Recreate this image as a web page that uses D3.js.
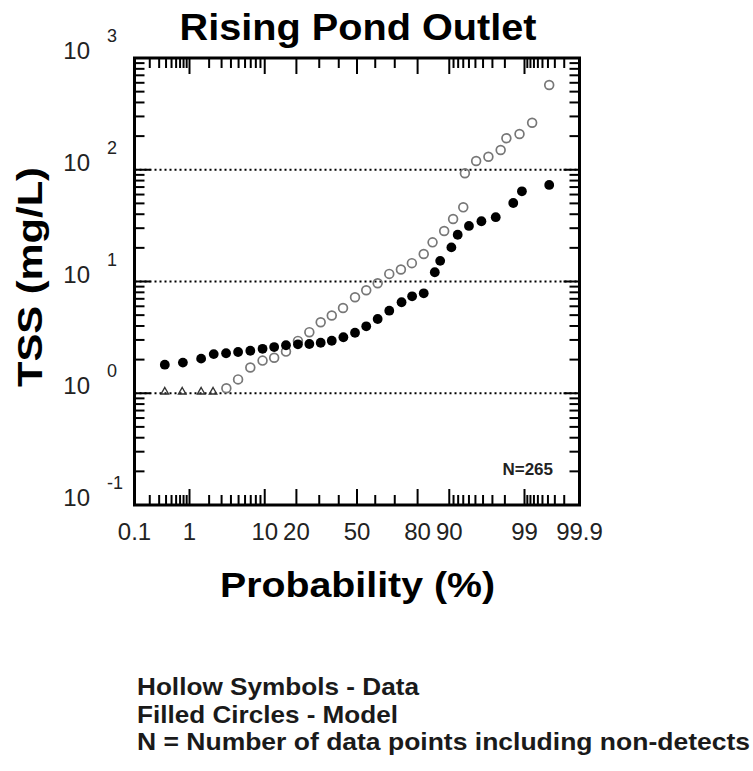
<!DOCTYPE html>
<html><head><meta charset="utf-8">
<script src="https://cdn.jsdelivr.net/npm/d3@7"></script>
<style>body{margin:0;background:#fff}svg{display:block}text{font-family:"Liberation Sans",Arial,sans-serif}</style>
</head><body>
<svg id="c" width="753" height="771"></svg>
<script>
// ---- data ----
const modelProb = [0.38,0.78,1.52,2.33,3.45,4.93,6.92,9.48,12.5,16.2,20.6,25.4,30.7,36.3,42.5,48.9,55.1,61.3,67.3,73.2,77.8,82.3,86.0,87.6,90.5,91.9,94.0,95.8,97.3,98.5,98.9,99.62];
const modelTSS  = [1.80,1.88,2.04,2.24,2.28,2.34,2.40,2.50,2.59,2.69,2.74,2.76,2.83,2.95,3.17,3.48,3.97,4.62,5.48,6.52,7.37,7.84,12.1,15.3,20.2,26.2,31.4,34.6,37.6,50.4,64.1,73.1];
const dataProb = [3.48,4.93,6.92,9.48,12.5,16.2,20.6,25.4,30.7,36.3,42.3,48.9,55.1,61.3,67.3,72.9,77.7,82.3,85.3,88.7,90.9,93.0,93.3,95.1,96.6,97.7,98.1,98.8,99.25,99.62];
const dataTSS  = [1.11,1.33,1.70,1.96,2.08,2.36,2.94,3.52,4.32,4.96,5.79,7.22,8.34,9.64,11.7,12.8,14.6,17.6,22.4,28.3,36.2,46.1,92.9,119.7,130.8,150.3,191.6,208.9,263.6,573];
const ndProb = [0.38,0.76,1.52,2.28];
const ndTSS  = [1.03,1.03,1.03,1.03];
const xTickLabels = ["0.1","1","10","20","50","80","90","99","99.9"];
const xMajor = [1,10,20,50,80,90,99];
const xMinor = [0.2,0.3,0.4,0.5,0.6,0.7,0.8,0.9,2,3,4,5,6,7,8,9,30,40,60,70,91,92,93,94,95,96,97,98,99.1,99.2,99.3,99.4,99.5,99.6,99.7,99.8];
const yDecades = [-1,0,1,2,3];
const gridValues = [1,10,100];

// inverse normal CDF (Acklam)
function probit(p){
  const a=[-39.69683028665376,220.9460984245205,-275.9285104469687,138.3577518672690,-30.66479806614716,2.506628277459239];
  const b=[-54.47609879822406,161.5858368580409,-155.6989798598866,66.80131188771972,-13.28068155288572];
  const c=[-0.007784894002430293,-0.3223964580411365,-2.400758277161838,-2.549732539343734,4.374664141464968,2.938163982698783];
  const d=[0.007784695709041462,0.3224671290700398,2.445134137142996,3.754408661907416];
  const pl=0.02425, ph=1-pl; let q,r;
  if(p<pl){q=Math.sqrt(-2*Math.log(p));return (((((c[0]*q+c[1])*q+c[2])*q+c[3])*q+c[4])*q+c[5])/((((d[0]*q+d[1])*q+d[2])*q+d[3])*q+1);}
  if(p<=ph){q=p-0.5;r=q*q;return (((((a[0]*r+a[1])*r+a[2])*r+a[3])*r+a[4])*r+a[5])*q/(((((b[0]*r+b[1])*r+b[2])*r+b[3])*r+b[4])*r+1);}
  q=Math.sqrt(-2*Math.log(1-p));return -(((((c[0]*q+c[1])*q+c[2])*q+c[3])*q+c[4])*q+c[5])/((((d[0]*q+d[1])*q+d[2])*q+d[3])*q+1);
}

const L=134.5, R=579.5, T=58, B=505;
const zs = d3.scaleLinear().domain([probit(0.001),probit(0.999)]).range([L,R]);
const x = p => zs(probit(p/100));
const y = d3.scaleLog().domain([0.1,1000]).range([B,T]);

const svg = d3.select("#c");

// gridlines
svg.append("g").selectAll("line").data(gridValues).join("line")
  .attr("x1",L).attr("x2",R).attr("y1",d=>y(d)).attr("y2",d=>y(d))
  .attr("stroke","#000").attr("stroke-width",2.2).attr("stroke-dasharray","2,3");

// y ticks
const yMinor=[], yMaj=[];
for(let e=-1;e<3;e++){ for(let m=2;m<=9;m++) yMinor.push(m*Math.pow(10,e)); }
for(const e of yDecades) yMaj.push(Math.pow(10,e));
const tg = svg.append("g").attr("stroke","#000").attr("stroke-width",2);
[[yMinor,10],[yMaj,16]].forEach(([vals,len])=>{
  tg.selectAll(null).data(vals).join("line").attr("x1",L).attr("x2",L+len).attr("y1",d=>y(d)).attr("y2",d=>y(d));
  tg.selectAll(null).data(vals).join("line").attr("x1",R).attr("x2",R-len).attr("y1",d=>y(d)).attr("y2",d=>y(d));
});
[[xMinor,10],[xMajor,16]].forEach(([vals,len])=>{
  tg.selectAll(null).data(vals).join("line").attr("y1",B).attr("y2",B-len).attr("x1",d=>x(d)).attr("x2",d=>x(d));
  tg.selectAll(null).data(vals).join("line").attr("y1",T).attr("y2",T+len).attr("x1",d=>x(d)).attr("x2",d=>x(d));
});

// frame
svg.append("rect").attr("x",L).attr("y",T).attr("width",R-L).attr("height",B-T)
  .attr("fill","none").attr("stroke","#000").attr("stroke-width",3);

// non-detects
svg.append("g").selectAll("path").data(ndProb.map((p,i)=>[p,ndTSS[i]])).join("path")
  .attr("d",d3.symbol().type(d3.symbolTriangle).size(24))
  .attr("transform",d=>`translate(${x(d[0])},${y(d[1])})`)
  .attr("fill","none").attr("stroke","#333").attr("stroke-width",1.4);

// hollow data
svg.append("g").selectAll("circle").data(dataProb.map((p,i)=>[p,dataTSS[i]])).join("circle")
  .attr("cx",d=>x(d[0])).attr("cy",d=>y(d[1])).attr("r",4.4)
  .attr("fill","none").attr("stroke","#777").attr("stroke-width",1.7);

// model filled
svg.append("g").selectAll("circle").data(modelProb.map((p,i)=>[p,modelTSS[i]])).join("circle")
  .attr("cx",d=>x(d[0])).attr("cy",d=>y(d[1])).attr("r",4.9).attr("fill","#000");

// x tick labels
svg.append("g").selectAll("text").data(xTickLabels).join("text")
  .attr("x",d=>x(+d)).attr("y",540).attr("text-anchor","middle")
  .attr("font-size",24).attr("fill","#222").text(d=>d);

// y tick labels
const yl = svg.append("g");
yl.selectAll(null).data(yDecades).join("text")
  .attr("x",90).attr("y",d=>y(Math.pow(10,d))+1).attr("text-anchor","end")
  .attr("font-size",24).attr("fill","#222").text("10");
yl.selectAll(null).data(yDecades).join("text")
  .attr("x",107).attr("y",d=>y(Math.pow(10,d))-16).attr("text-anchor","start")
  .attr("font-size",18).attr("fill","#222").text(d=>String(d));

// titles
svg.append("text").attr("x",358).attr("y",40).attr("text-anchor","middle")
  .attr("font-size",36).attr("font-weight","bold").attr("textLength",357).attr("lengthAdjust","spacingAndGlyphs")
  .text("Rising Pond Outlet");
svg.append("text").attr("x",357.5).attr("y",597).attr("text-anchor","middle")
  .attr("font-size",35).attr("font-weight","bold").attr("textLength",275).attr("lengthAdjust","spacingAndGlyphs")
  .text("Probability (%)");
svg.append("text").attr("transform","translate(42,277) rotate(-90)").attr("text-anchor","middle")
  .attr("font-size",35).attr("font-weight","bold").attr("textLength",220).attr("lengthAdjust","spacingAndGlyphs")
  .text("TSS (mg/L)");

svg.append("text").attr("x",553).attr("y",475).attr("text-anchor","end")
  .attr("font-size",17).attr("font-weight","bold").attr("fill","#222").text("N=265");

// notes
const notes = ["Hollow Symbols - Data","Filled Circles - Model","N = Number of data points including non-detects"];
const noteW = [282,261,613];
svg.append("g").selectAll("text").data(notes).join("text")
  .attr("x",137).attr("y",(d,i)=>695+i*27.5)
  .attr("font-size",24).attr("font-weight","bold").attr("fill","#1a1a1a")
  .attr("textLength",(d,i)=>noteW[i]).attr("lengthAdjust","spacingAndGlyphs")
  .text(d=>d);
</script>
</body></html>
